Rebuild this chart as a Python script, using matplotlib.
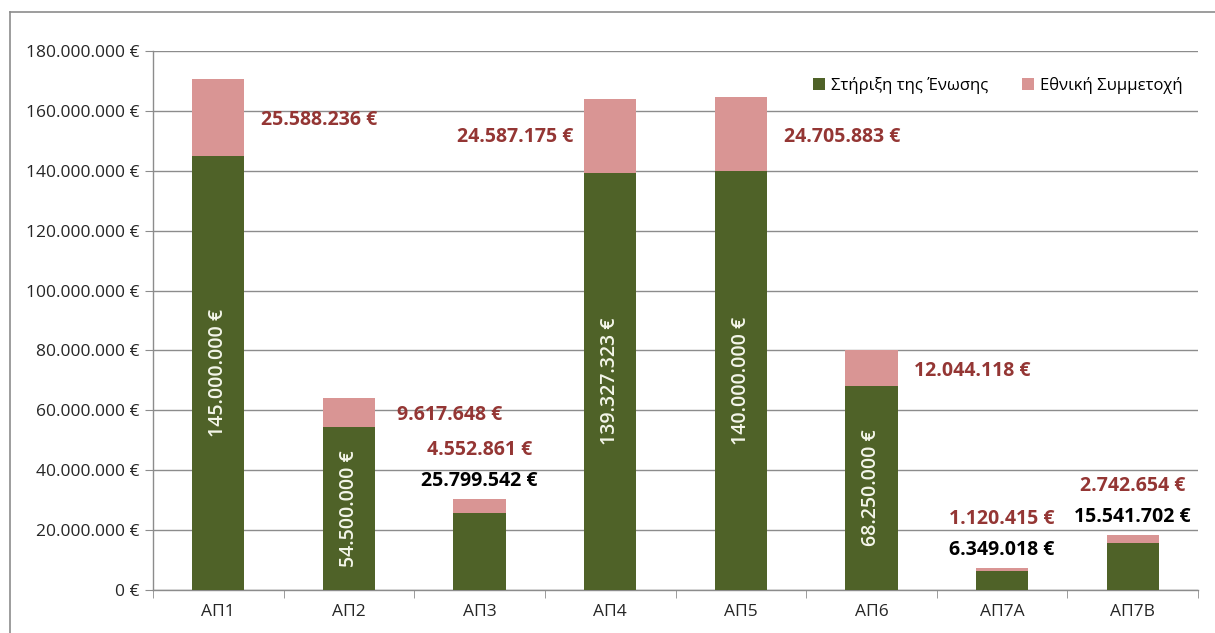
import matplotlib
matplotlib.use("Agg")
import matplotlib.pyplot as plt
from matplotlib.lines import Line2D
import numpy as np

plt.rcParams['font.family'] = ['Open Sans', 'DejaVu Sans']

categories = ["ΑΠ1", "ΑΠ2", "ΑΠ3", "ΑΠ4", "ΑΠ5", "ΑΠ6", "ΑΠ7A", "ΑΠ7B"]
eu_support = [145000000, 54500000, 25799542, 139327323, 140000000, 68250000, 6349018, 15541702]
national = [25588236, 9617648, 4552861, 24587175, 24705883, 12044118, 1120415, 2742654]
series_names = ["Στήριξη της Ένωσης", "Εθνική Συμμετοχή"]
yticks = [0, 20000000, 40000000, 60000000, 80000000, 100000000, 120000000, 140000000, 160000000, 180000000]

# label placement styles
nat_place = ['right', 'right', 'top', 'left', 'right', 'right', 'top', 'top']
eu_place = ['inside', 'inside', 'top', 'inside', 'inside', 'inside', 'top', 'top']

GREEN = '#4F6228'
PINK = '#D99594'
RED = '#943634'
GRID = '#8C8C8C'


def fmt(v):
    return f"{v:,.0f}".replace(',', '.') + " €"


fig = plt.figure(figsize=(12.15, 6.33), dpi=100)
ax = fig.add_axes([153 / 1215, 1 - 590 / 633, (1198 - 153) / 1215, (590 - 51) / 633])

x = np.arange(len(categories))
w = 0.4
ax.bar(x, eu_support, width=w, color=GREEN, label=series_names[0], zorder=3)
ax.bar(x, national, width=w, bottom=eu_support, color=PINK, label=series_names[1], zorder=3)

ax.set_xlim(-0.5, len(categories) - 0.5)
ax.set_ylim(0, 180000000)
ax.set_yticks(yticks)
ax.set_yticklabels([fmt(v) for v in yticks], fontsize=12.5, color='#262626')
ax.set_xticks(x)
ax.set_xticklabels(categories, fontsize=12.5, color='#262626')
ax.set_xticks(np.arange(-0.5, len(categories), 1.0), minor=True)
ax.tick_params(axis='x', which='major', length=0, pad=10)
ax.tick_params(axis='x', which='minor', length=6, color=GRID, direction='out')
ax.tick_params(axis='y', length=6, color=GRID, direction='out', pad=4)
ax.yaxis.grid(True, color=GRID, linewidth=1, zorder=0)
ax.set_axisbelow(True)
for s in ['top', 'right']:
    ax.spines[s].set_visible(False)
for s in ['left', 'bottom']:
    ax.spines[s].set_color(GRID)
    ax.spines[s].set_linewidth(1)

lab_fs = 14
for i in range(len(categories)):
    eu = eu_support[i]
    nat = national[i]
    top = eu + nat
    # national label
    if nat_place[i] == 'right':
        ax.annotate(fmt(nat), xy=(x[i], eu + nat / 2), xytext=(101, -3), textcoords='offset pixels',
                    ha='center', va='center', fontsize=lab_fs, fontweight='bold', color=RED)
    elif nat_place[i] == 'left':
        ax.annotate(fmt(nat), xy=(x[i], eu + nat / 2), xytext=(-95, -1), textcoords='offset pixels',
                    ha='center', va='center', fontsize=lab_fs, fontweight='bold', color=RED)
    else:
        ax.annotate(fmt(nat), xy=(x[i], top), xytext=(0, 49), textcoords='offset pixels',
                    ha='center', va='center', fontsize=lab_fs, fontweight='bold', color=RED)
    # EU label
    if eu_place[i] == 'inside':
        ax.text(x[i], eu / 2, fmt(eu), rotation=90, ha='center', va='center',
                fontsize=14, fontweight='semibold', color='#F4F6EA', zorder=4)
    else:
        ax.annotate(fmt(eu), xy=(x[i], top), xytext=(0, 18), textcoords='offset pixels',
                    ha='center', va='center', fontsize=lab_fs, fontweight='bold', color='black')

leg = ax.legend(loc='upper right', bbox_to_anchor=(1.0, 0.98), ncol=2, frameon=False,
                fontsize=12, handlelength=0.7, handleheight=0.7, handletextpad=0.4,
                columnspacing=2.0)

# outer frame lines
fig.add_artist(Line2D([10 / 1215, 1], [1 - 12 / 633, 1 - 12 / 633], transform=fig.transFigure,
                      color='#8C8C8C', linewidth=1.2))
fig.add_artist(Line2D([10 / 1215, 10 / 1215], [0, 1 - 12 / 633], transform=fig.transFigure,
                      color='#8C8C8C', linewidth=1.2))

fig.savefig("out.png", dpi=100)
